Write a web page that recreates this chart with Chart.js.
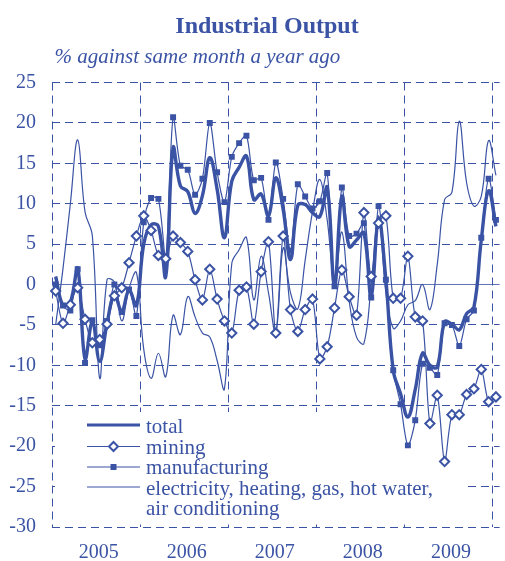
<!DOCTYPE html>
<html>
<head>
<meta charset="utf-8">
<script src="https://cdn.jsdelivr.net/npm/chart.js@4.4.1/dist/chart.umd.min.js"></script>
<style>
  html, body { margin: 0; padding: 0; background: #fff; overflow: hidden; }
  #wrap { position: relative; width: 505px; height: 561px; overflow: hidden; }
  canvas { display: block; }
</style>
</head>
<body>
<div id="wrap"><canvas id="c" width="510" height="561" style="width:510px;height:561px"></canvas></div>
<script>
const TITLE = 'Industrial Output';
const SUBTITLE = '% against same month a year ago';
const YEARS = [2005, 2006, 2007, 2008, 2009, 2010];
const MONTH_NAMES = ['Jan','Feb','Mar','Apr','May','Jun','Jul','Aug','Sep','Oct','Nov','Dec'];
const Y_TICKS = { min: -30, max: 25, step: 5 };
const SERIES_NAMES = ['total', 'mining', 'manufacturing', 'electricity, heating, gas, hot water,', 'air conditioning'];

const total = [
  1.0, -2.6, -2.2, 2.0, -9.2, -4.6, -9.5, -4.8, -1.2, -3.3, -0.7, -2.6,
  5.0, 7.4, 7.2, 1.0, 16.9, 12.2, 11.5, 8.8, 11.0, 15.7, 11.8, 5.8,
  12.8, 14.5, 15.9, 10.5, 11.2, 8.5, 13.2, 9.3, 3.1, 9.8, 9.9, 8.9,
  8.4, 12.0, -0.2, 10.9, 4.7, 5.5, 6.4, -1.5, 8.2, 0.6, -10.6, -13.5,
  -16.4, -13.0, -8.5, -10.0, -10.2, -4.6, -4.9, -5.6, -3.6, -2.8, 5.5, 11.6,
  7.2
];
const mining = [
  -0.8, -4.8, -2.5, -0.4, -4.3, -7.2, -6.8, -4.9, -1.4, -0.4, 2.7, 6.0,
  8.5, 6.7, 3.6, 3.2, 6.0, 5.2, 4.1, 0.6, -1.9, 1.9, -1.8, -4.5,
  -6.0, -0.7, -0.3, -4.9, 1.6, 5.3, -6.0, 6.0, -3.1, -5.8, -3.1, -1.8,
  -9.2, -7.7, -2.9, 1.8, -1.5, -3.8, 8.9, 1.0, 7.6, 8.5, -1.7, -1.7,
  3.5, -4.0, -4.5, -17.2, -13.7, -21.9, -16.1, -16.1, -13.6, -12.9, -10.5, -14.5,
  -13.9
];
const manufacturing = [
  0.0, -2.6, -3.2, 1.9, -9.7, -4.4, -7.5, -4.5, 0.0, -3.4, -0.6, -3.9,
  7.7, 10.7, 10.6, 3.3, 20.7, 14.7, 14.2, 11.1, 13.1, 20.0, 13.9, 10.2,
  15.8, 17.5, 18.4, 12.9, 13.2, 8.0, 15.1, 10.6, 4.2, 12.4, 10.9, 9.4,
  10.3, 13.8, -0.2, 12.0, 6.0, 6.3, 7.6, -1.6, 9.7, 0.6, -10.6, -14.8,
  -19.9, -16.8, -9.8, -10.3, -11.2, -4.8, -5.0, -7.6, -4.3, -3.2, 5.8, 13.1,
  8.0
];
const electricity = [
  -5.0, 2.0, 10.0, 17.9, 9.0, 6.0, -11.6, 0.6, 0.3, -4.5, -0.5, 1.5,
  -8.0, -11.6, -8.5, -11.4, -3.8, -6.2, -1.5, -4.0, -6.0, -6.5, -9.4, -12.9,
  2.6, 4.3, 5.8, -1.9, 3.5, -1.0, -6.0, 4.5, -1.0, -3.0, 3.0, 9.0,
  13.0, 8.0, 0.5, 6.5, -2.0, -6.5, -7.3, 0.0, 8.5, -1.0, -5.4, -4.5,
  -2.5, -2.0, 0.0, -3.1, 2.5, 10.5, 11.4, 20.2, 12.6, 9.7, 10.9, 17.8,
  13.5
];

// categories: Jan 2005 ... Jan 2010
const categories = [];
YEARS.forEach(y => MONTH_NAMES.forEach(m => { if (categories.length < total.length) categories.push(m + ' ' + y); }));

const BLUE = '#3a53a4';
const FONT = '"Liberation Serif", "Times New Roman", serif';

const decor = {
  id: 'decor',
  beforeDatasetsDraw(chart) {
    const ctx = chart.ctx;
    ctx.save();
    ctx.fillStyle = '#ffffff';
    ctx.fillRect(55, 412, 412, 110);
    ctx.restore();
  },
  afterDraw(chart) {
    const ctx = chart.ctx;
    ctx.save();
    ctx.fillStyle = BLUE;
    ctx.textBaseline = 'alphabetic';
    ctx.textAlign = 'center';
    ctx.font = 'bold 24px ' + FONT;
    ctx.fillText(TITLE, 267, 33);
    ctx.textAlign = 'left';
    ctx.font = 'italic 21px ' + FONT;
    ctx.fillText(SUBTITLE, 54.5, 63);

    // legend
    const x0 = 87, x1 = 140, xm = 113.5, tx = 146;
    const rows = [425, 446.5, 467, 487];
    const bases = [433, 454, 474.3, 494.5, 514.8];
    ctx.strokeStyle = BLUE;
    ctx.lineWidth = 3.2;
    ctx.beginPath(); ctx.moveTo(x0, rows[0]); ctx.lineTo(x1, rows[0]); ctx.stroke();
    ctx.lineWidth = 1.2;
    for (let i = 1; i < 4; i++) {
      ctx.beginPath(); ctx.moveTo(x0, rows[i]); ctx.lineTo(x1, rows[i]); ctx.stroke();
    }
    ctx.lineWidth = 2;
    ctx.fillStyle = '#ffffff';
    ctx.beginPath();
    ctx.moveTo(xm, rows[1] - 4.5); ctx.lineTo(xm + 4.5, rows[1]); ctx.lineTo(xm, rows[1] + 4.5); ctx.lineTo(xm - 4.5, rows[1]); ctx.closePath();
    ctx.fill(); ctx.stroke();
    ctx.fillStyle = BLUE;
    ctx.fillRect(xm - 3, rows[2] - 3, 6, 6);
    ctx.font = '21px ' + FONT;
    ctx.textAlign = 'left';
    SERIES_NAMES.forEach((t, i) => ctx.fillText(t, tx, bases[i]));
    ctx.restore();
  }
};

new Chart(document.getElementById('c'), {
  type: 'line',
  data: {
    labels: categories,
    datasets: [
      { label: 'total', data: total, borderColor: BLUE, borderWidth: 3.4, pointRadius: 0, tension: 0.4, order: 4 },
      { label: 'electricity', data: electricity, borderColor: BLUE, borderWidth: 1.2, pointRadius: 0, tension: 0.4, order: 3 },
      { label: 'manufacturing', data: manufacturing, borderColor: BLUE, borderWidth: 1.2, pointRadius: 4.2, pointStyle: 'rect',
        pointBackgroundColor: BLUE, pointBorderColor: BLUE, pointBorderWidth: 0, tension: 0.3, order: 2 },
      { label: 'mining', data: mining, borderColor: BLUE, borderWidth: 1.2, pointRadius: 4.6, pointStyle: 'rectRot',
        pointBackgroundColor: '#ffffff', pointBorderColor: BLUE, pointBorderWidth: 2, tension: 0.3, order: 1 }
    ]
  },
  options: {
    responsive: false,
    animation: false,
    devicePixelRatio: 1,
    layout: { padding: { top: 82.5, right: 1, bottom: 0, left: 0 } },
    plugins: { legend: { display: false }, tooltip: { enabled: false }, title: { display: false } },
    scales: {
      x: {
        type: 'category',
        offset: true,
        afterFit(scale) { scale.height = 34; },
        grid: {
          offset: true,
          drawTicks: false,
          lineWidth: 1,
          color: ctx => (ctx.index % 12 === 0 && ctx.index <= 60) ? BLUE : 'rgba(0,0,0,0)'
        },
        border: { display: false, dash: [8, 5] },
        ticks: {
          autoSkip: false,
          maxRotation: 0,
          minRotation: 0,
          padding: 14,
          labelOffset: -1,
          color: BLUE,
          font: { family: FONT, size: 20 },
          callback: function(v, i) { return (i % 12 === 6) ? String(YEARS[Math.floor(i / 12)]) : ''; }
        }
      },
      y: {
        min: Y_TICKS.min,
        max: Y_TICKS.max,
        afterFit(scale) { scale.width = 52; },
        grid: {
          drawTicks: false,
          lineWidth: 1,
          color: ctx => (ctx.tick && ctx.tick.value === 0) ? 'rgba(58,83,164,0.8)' : BLUE
        },
        border: { display: false, dash: ctx => (ctx.tick && ctx.tick.value === 0) ? [] : [8, 5] },
        ticks: {
          stepSize: Y_TICKS.step,
          padding: 16,
          color: BLUE,
          font: { family: FONT, size: 20 }
        }
      }
    }
  },
  plugins: [decor]
});
</script>
</body>
</html>
